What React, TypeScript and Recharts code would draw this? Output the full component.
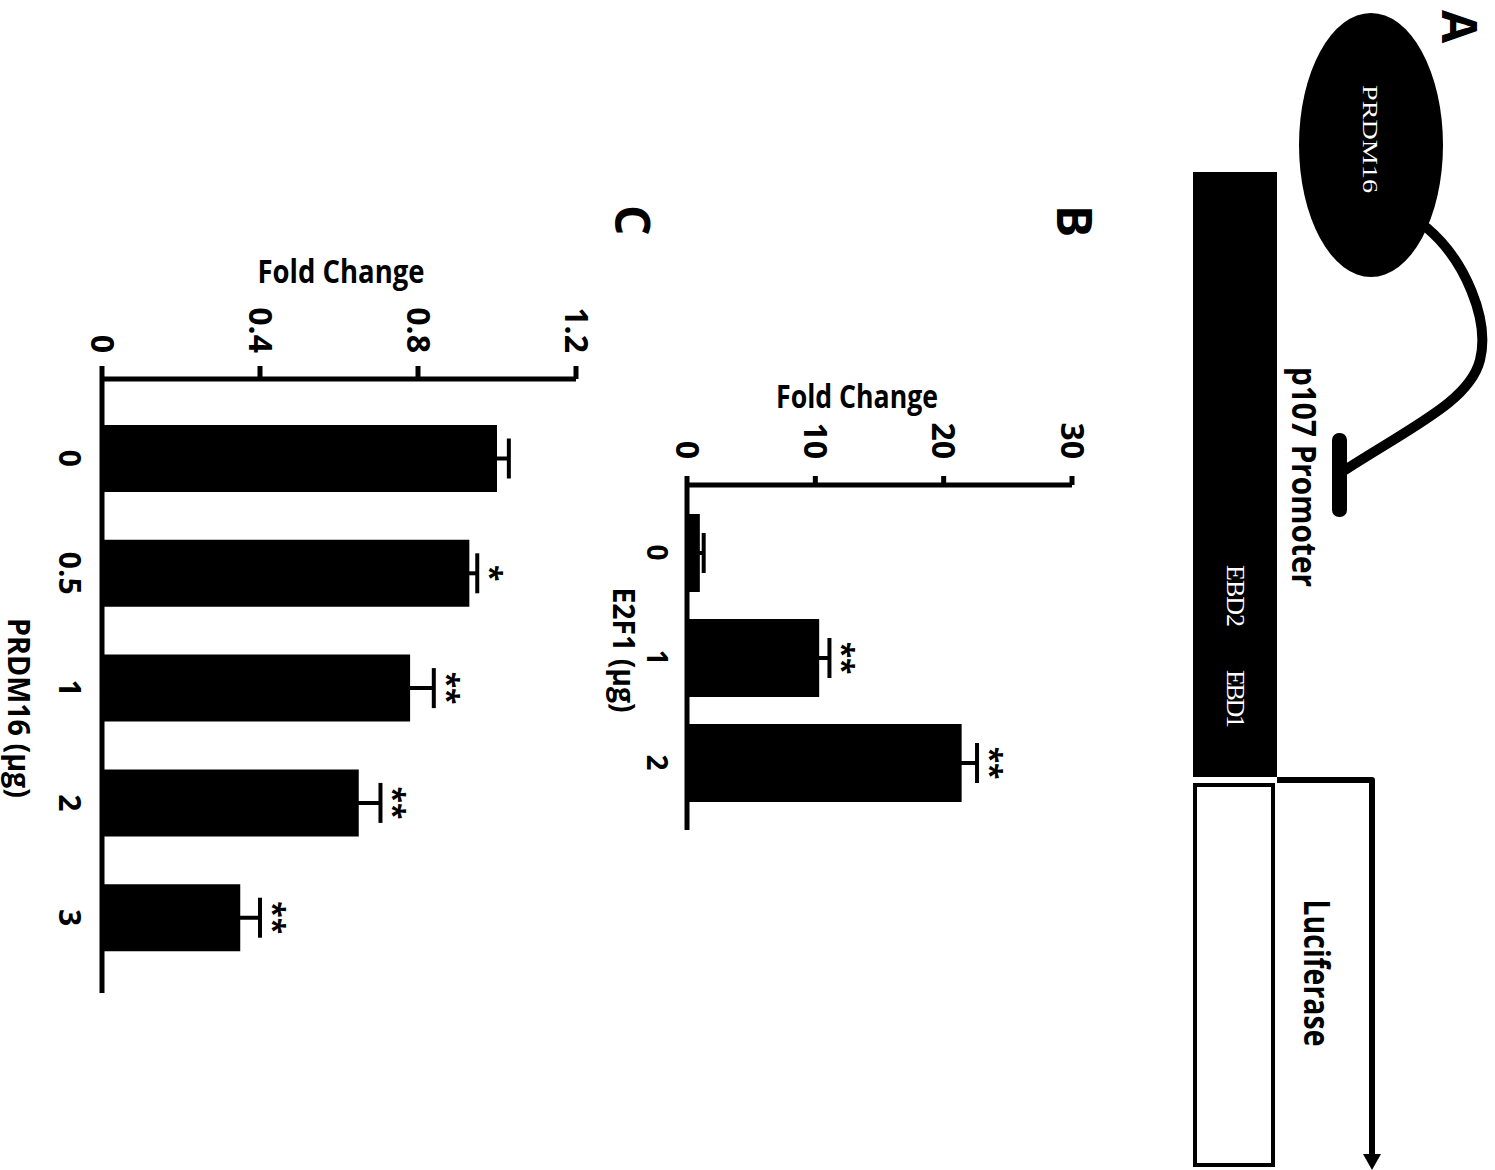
import React from "react";
import { BarChart, Bar, XAxis, YAxis, ErrorBar, LabelList } from "recharts";

// panel B: E2F1 dose response
const e2f1Doses = ["0", "1", "2"];
const e2f1Fold = [1.0, 10.3, 21.4];
const e2f1Err = [0.3, 0.8, 1.2];
const e2f1Sig = ["", "**", "**"];
const e2f1Ticks = [0, 10, 20, 30];

// panel C: PRDM16 dose response
const prdmDoses = ["0", "0.5", "1", "2", "3"];
const prdmFold = [1.0, 0.93, 0.78, 0.65, 0.35];
const prdmErr = [0.03, 0.02, 0.06, 0.055, 0.05];
const prdmSig = ["", "*", "**", "**", "**"];
const prdmTicks = [0, 0.4, 0.8, 1.2];

const FONT = "'Open Sans', 'Noto Sans', sans-serif";
const SERIF = "'Liberation Serif', 'DejaVu Serif', serif";

const e2f1Data = e2f1Doses.map((d, i) => ({ dose: d, fold: e2f1Fold[i], err: e2f1Err[i], sig: e2f1Sig[i] }));
const prdmData = prdmDoses.map((d, i) => ({ dose: d, fold: prdmFold[i], err: prdmErr[i], sig: prdmSig[i] }));

// stars sit just above the top of the error bar
const starLabel = (fold: number[], err: number[]) => (props: any) => {
  const { x, y, width, height, index, value } = props;
  if (!value) return null;
  const errTop = Number(y) - (err[index] / fold[index]) * Number(height);
  return (
    <text
      x={Number(x) + Number(width) / 2}
      y={errTop - 3}
      textAnchor="middle"
      fontSize={30}
      fontWeight={700}
      fontFamily={FONT}
      fill="#000">
      {value}
    </text>
  );
};

const axisTitle = (value: string, x: number, y: number, len: number, vertical: boolean) => () => (
  <text
    x={x}
    y={y}
    transform={vertical ? `rotate(-90 ${x} ${y})` : undefined}
    textAnchor="middle"
    dominantBaseline="central"
    fontSize={vertical ? 32 : 30}
    fontWeight={700}
    fontFamily={FONT}
    textLength={len}
    lengthAdjust="spacingAndGlyphs"
    fill="#000">
    {value}
  </text>
);

const axisLineStyle = { stroke: "#000", strokeWidth: 5 };

const DiagramA = () => (
  <svg width={1170} height={1495} style={{ position: "absolute", left: 0, top: 0 }}>
    <text x={10} y={53} fontSize={48} fontWeight={700} fontFamily={FONT}>A</text>
    <text x={205} y={438} fontSize={48} fontWeight={700} fontFamily={FONT}>B</text>
    <text x={205} y={880} fontSize={48} fontWeight={700} fontFamily={FONT}>C</text>

    <ellipse cx={145} cy={124} rx={132} ry={72} fill="#000" />
    <text
      x={139}
      y={125}
      fill="#fff"
      fontSize={22}
      fontFamily={SERIF}
      textAnchor="middle"
      dominantBaseline="central"
      textLength={108}
      lengthAdjust="spacingAndGlyphs">
      PRDM16
    </text>
    <path
      d="M228,68 C260,30 320,5 360,15 C400,25 425,80 470,150"
      fill="none"
      stroke="#000"
      strokeWidth={10}
      strokeLinecap="round"
    />
    <rect x={433} y={148} width={84} height={15} rx={7} fill="#000" />

    <text
      x={477}
      y={203}
      textAnchor="middle"
      fontSize={34}
      fontWeight={700}
      fontFamily={FONT}
      textLength={220}
      lengthAdjust="spacingAndGlyphs">
      p107 Promoter
    </text>
    <rect x={172} y={218} width={605} height={84} fill="#000" />
    <text x={596} y={260} fill="#fff" fontSize={26} fontFamily={SERIF} textAnchor="middle" dominantBaseline="central" textLength={62}>
      EBD2
    </text>
    <text x={699} y={260} fill="#fff" fontSize={26} fontFamily={SERIF} textAnchor="middle" dominantBaseline="central" textLength={58}>
      EBD1
    </text>
    <rect x={785} y={222} width={380} height={78} fill="#fff" stroke="#000" strokeWidth={4} />
    <path d="M780,218 L780,123 L1160,123" fill="none" stroke="#000" strokeWidth={6} strokeLinejoin="round" />
    <polygon points="1154,114 1170,123 1154,132" fill="#000" />
    <text
      x={973}
      y={191}
      textAnchor="middle"
      fontSize={36}
      fontWeight={700}
      fontFamily={FONT}
      textLength={147}
      lengthAdjust="spacingAndGlyphs">
      Luciferase
    </text>
  </svg>
);

const ChartB = () => (
  <div style={{ position: "absolute", left: 300, top: 380 }}>
    <BarChart width={580} height={520} data={e2f1Data} margin={{ top: 43, right: 50, bottom: 32, left: 105 }}>
      <XAxis
        dataKey="dose"
        height={60}
        padding={{ left: 15, right: 15 }}
        axisLine={axisLineStyle}
        tickLine={false}
        tickSize={0}
        tickMargin={20}
        tick={{ fontSize: 28, fontWeight: 700, fill: "#000", fontFamily: FONT }}
        label={{ content: axisTitle("E2F1 (µg)", 350, 491, 125, false) }}
      />
      <YAxis
        width={80}
        domain={[0, 30]}
        ticks={e2f1Ticks}
        interval={0}
        axisLine={axisLineStyle}
        tickLine={axisLineStyle}
        tickSize={9}
        tickMargin={17}
        tick={{ fontSize: 32, fontWeight: 700, fill: "#000", fontFamily: FONT }}
        label={{ content: axisTitle("Fold Change", 95, 258, 162, true) }}
      />
      <Bar dataKey="fold" fill="#000" barSize={78} isAnimationActive={false}>
        <ErrorBar dataKey="err" width={20} strokeWidth={4} stroke="#000" />
        <LabelList dataKey="sig" content={starLabel(e2f1Fold, e2f1Err)} />
      </Bar>
    </BarChart>
  </div>
);

const ChartC = () => (
  <div style={{ position: "absolute", left: 200, top: 870 }}>
    <BarChart width={840} height={625} data={prdmData} margin={{ top: 49, right: 47, bottom: 42, left: 99 }}>
      <XAxis
        dataKey="dose"
        height={60}
        padding={{ left: 22, right: 18 }}
        axisLine={axisLineStyle}
        tickLine={false}
        tickSize={0}
        tickMargin={22}
        tick={{ fontSize: 30, fontWeight: 700, fill: "#000", fontFamily: FONT }}
        label={{ content: axisTitle("PRDM16 (µg)", 508, 606, 180, false) }}
      />
      <YAxis
        width={80}
        domain={[0, 1.2]}
        ticks={prdmTicks}
        interval={0}
        axisLine={axisLineStyle}
        tickLine={axisLineStyle}
        tickSize={13}
        tickMargin={13}
        tick={{ fontSize: 32, fontWeight: 700, fill: "#000", fontFamily: FONT }}
        label={{ content: axisTitle("Fold Change", 70, 284, 167, true) }}
      />
      <Bar dataKey="fold" fill="#000" barSize={67} isAnimationActive={false}>
        <ErrorBar dataKey="err" width={20} strokeWidth={4} stroke="#000" />
        <LabelList dataKey="sig" content={starLabel(prdmFold, prdmErr)} />
      </Bar>
    </BarChart>
  </div>
);

export default function App() {
  return (
    <div style={{ position: "absolute", left: 0, top: 0, width: 1495, height: 1170, overflow: "hidden", background: "#fff" }}>
      {/* the figure is laid out upright and then turned a quarter clockwise */}
      <div
        style={{
          position: "absolute",
          left: 0,
          top: 0,
          width: 1170,
          height: 1495,
          transformOrigin: "0 0",
          transform: "translateX(1495px) rotate(90deg)",
        }}>
        <DiagramA />
        <ChartB />
        <ChartC />
      </div>
    </div>
  );
}
